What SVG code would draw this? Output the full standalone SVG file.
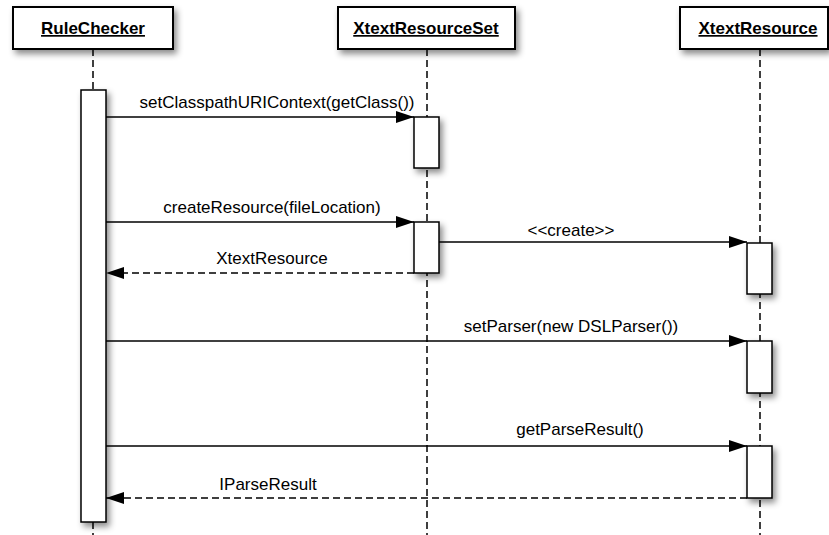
<svg xmlns="http://www.w3.org/2000/svg" width="829" height="535" viewBox="0 0 829 535">
  <style>
    .head { fill: #fff; stroke: #000; stroke-width: 2; filter: url(#shadow); }
    .act { fill: #fff; stroke: #000; stroke-width: 1.5; filter: url(#shadow); }
    .life { stroke: #000; stroke-width: 1.5; stroke-dasharray: 7 4; fill: none; }
    .title { font-family: "Liberation Sans", Arial, sans-serif; font-size: 17px; font-weight: bold; text-anchor: middle; text-decoration: underline; fill: #000; }
    .msg { stroke: #000; stroke-width: 1.5; fill: none; marker-end: url(#arrow); }
    .ret { stroke: #000; stroke-width: 1.5; fill: none; stroke-dasharray: 7 4; marker-end: url(#arrow); }
    .lbl { font-family: "Liberation Sans", Arial, sans-serif; font-size: 17px; text-anchor: middle; fill: #000; }
  </style>
  <defs>
    <filter id="shadow" x="-50%" y="-50%" width="200%" height="200%">
      <feDropShadow dx="3" dy="4" stdDeviation="3" flood-color="#000" flood-opacity="0.45"/>
    </filter>
    <marker id="arrow" markerUnits="userSpaceOnUse" markerWidth="18" markerHeight="12" refX="18" refY="6" orient="auto">
      <path d="M0,0 L18,6 L0,12 z" fill="#000"/>
    </marker>
  </defs>
  <rect width="829" height="535" fill="#fff"/>

  <!-- RuleChecker lifeline -->
  <g id="ruleChecker">
    <line class="life" x1="93" y1="49" x2="93" y2="535"/>
    <rect class="head" x="13" y="7" width="160" height="42"/>
    <text class="title" x="93" y="34">RuleChecker</text>
    <rect class="act" x="81" y="90" width="25" height="432"/>
  </g>

  <!-- XtextResourceSet lifeline -->
  <g id="xtextResourceSet">
    <line class="life" x1="427" y1="49" x2="427" y2="535"/>
    <rect class="head" x="338" y="7" width="177" height="42"/>
    <text class="title" x="426" y="34">XtextResourceSet</text>
    <rect class="act" x="414" y="117" width="25" height="51"/>
    <rect class="act" x="414" y="222" width="25" height="51"/>
  </g>

  <!-- XtextResource lifeline -->
  <g id="xtextResource">
    <line class="life" x1="760" y1="49" x2="760" y2="535"/>
    <rect class="head" x="680" y="7" width="148" height="42"/>
    <text class="title" x="758" y="34">XtextResource</text>
    <rect class="act" x="747" y="243" width="25" height="51"/>
    <rect class="act" x="747" y="341" width="25" height="52"/>
    <rect class="act" x="747" y="446" width="25" height="52"/>
  </g>

  <!-- messages -->
  <g id="connectors">
    <line class="msg" x1="106" y1="117" x2="414" y2="117"/>
    <text class="lbl" x="277" y="108">setClasspathURIContext(getClass())</text>

    <line class="msg" x1="106" y1="222" x2="414" y2="222"/>
    <text class="lbl" x="272" y="213">createResource(fileLocation)</text>

    <line class="ret" x1="414" y1="273" x2="106" y2="273"/>
    <text class="lbl" x="272" y="264">XtextResource</text>

    <line class="msg" x1="439" y1="242" x2="747" y2="242"/>
    <text class="lbl" x="571" y="236">&lt;&lt;create&gt;&gt;</text>

    <line class="msg" x1="106" y1="341" x2="747" y2="341"/>
    <text class="lbl" x="571" y="332">setParser(new DSLParser())</text>

    <line class="msg" x1="106" y1="446" x2="747" y2="446"/>
    <text class="lbl" x="580" y="435">getParseResult()</text>

    <line class="ret" x1="747" y1="498" x2="106" y2="498"/>
    <text class="lbl" x="268" y="490">IParseResult</text>
  </g>
</svg>
